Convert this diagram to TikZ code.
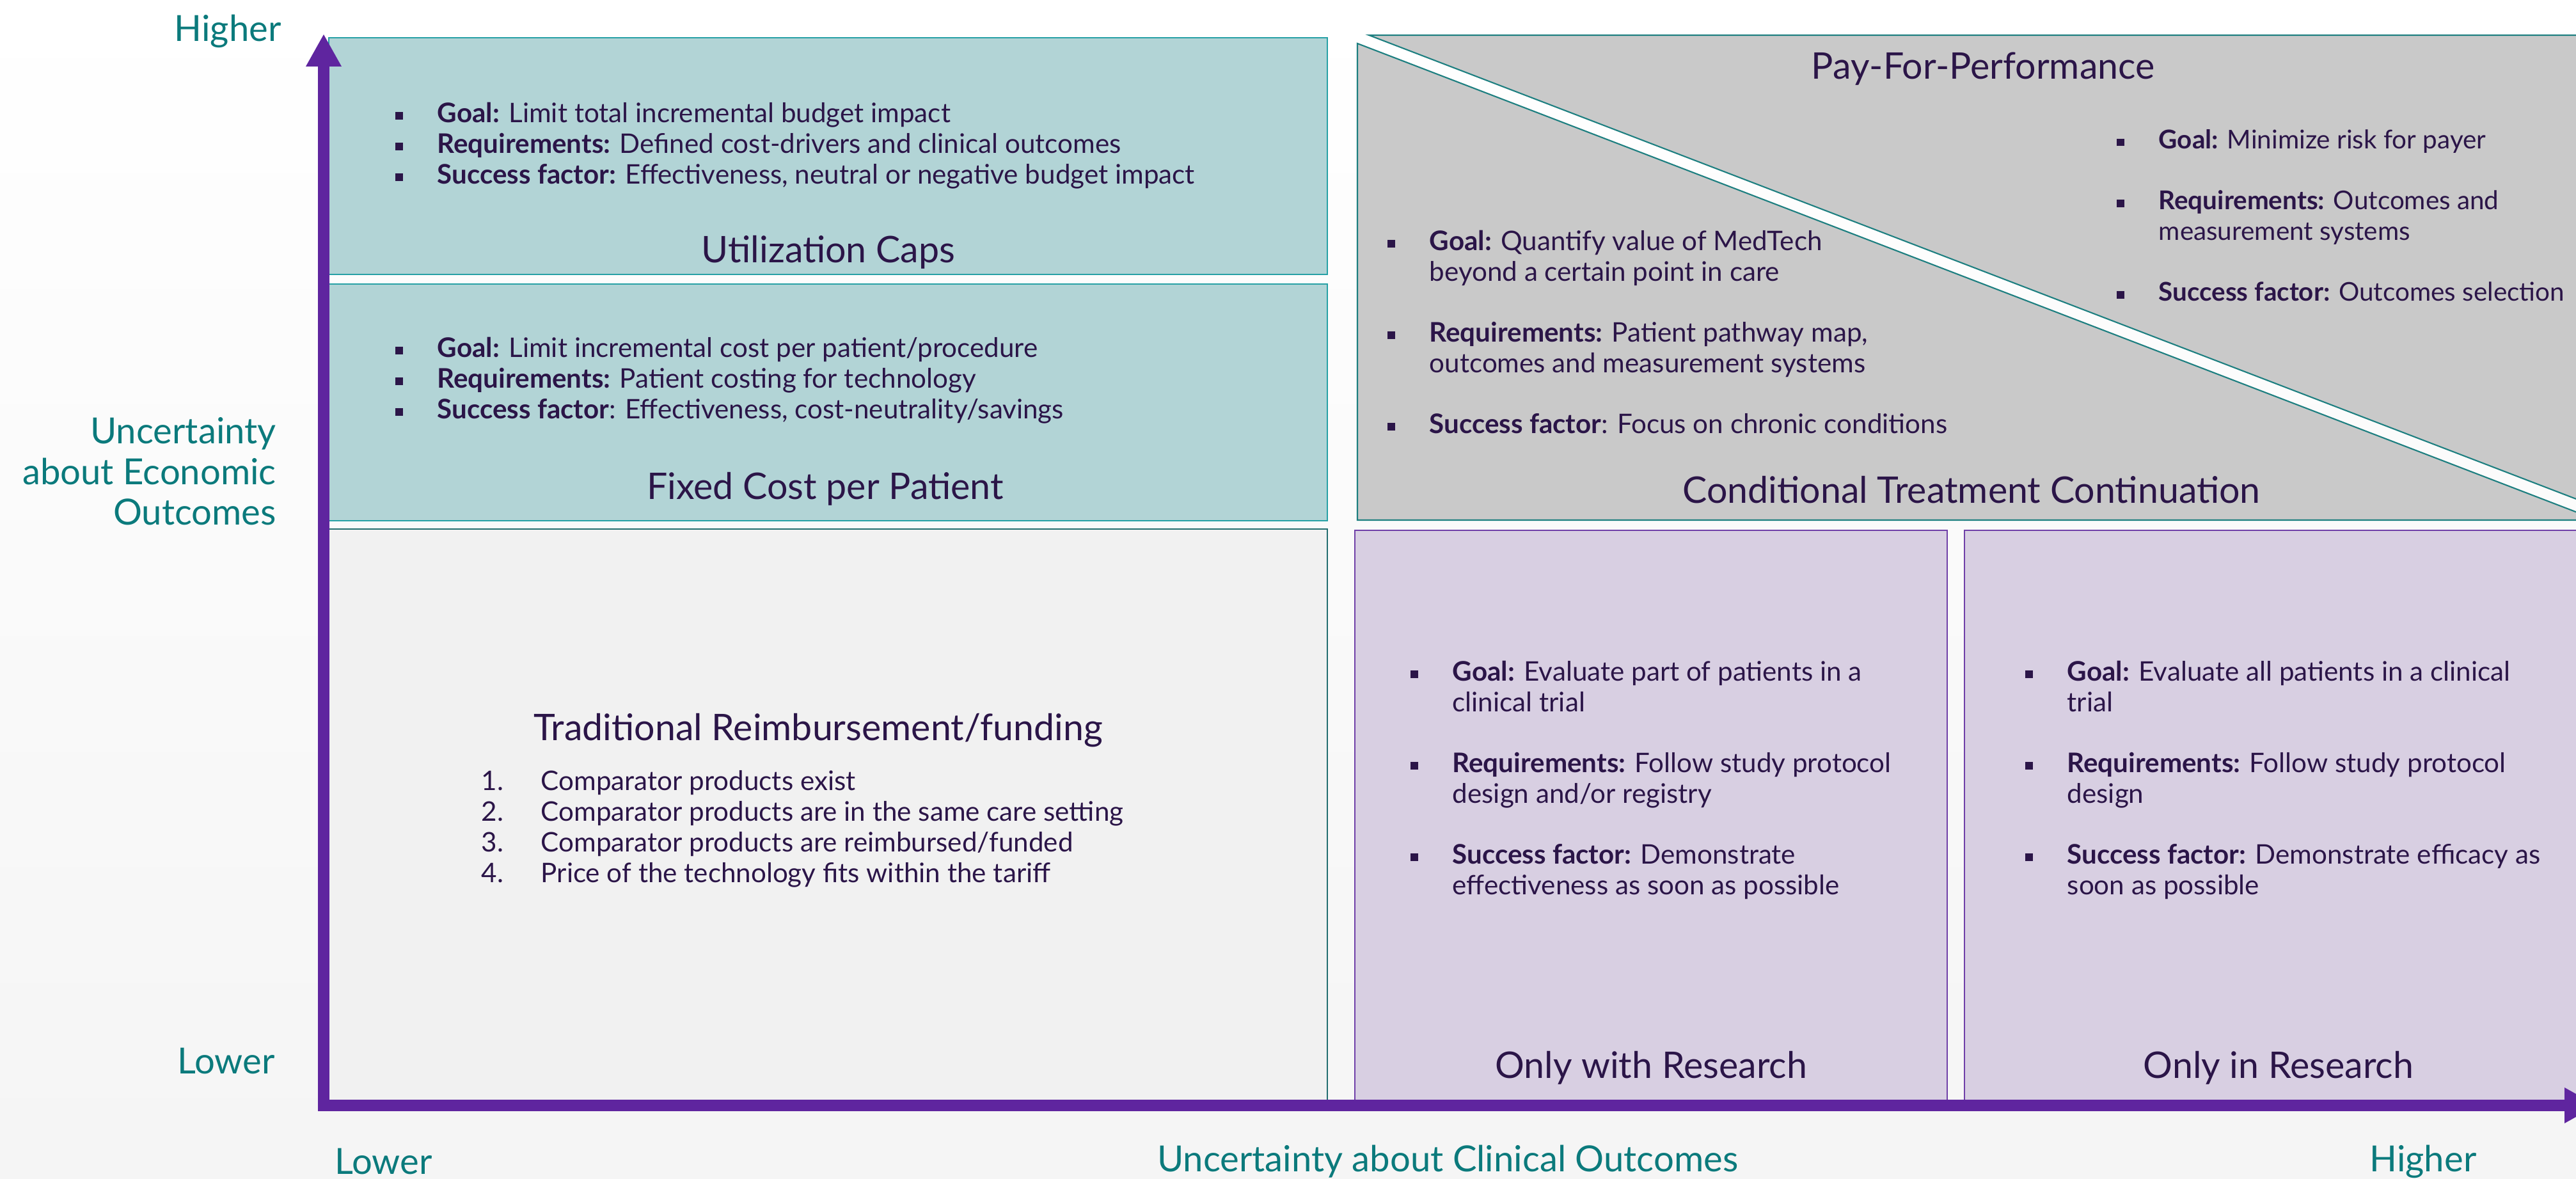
\documentclass[tikz,border=0pt]{standalone}
\usepackage{fontspec}
\setmainfont{Lato}
\usepackage{color}
\usepackage{tikz}
\usetikzlibrary{arrows.meta}

\definecolor{tealtxt}{HTML}{0B7A7C}
\definecolor{inktxt}{HTML}{2B1548}
\definecolor{axispurple}{HTML}{5F259F}
\definecolor{tealfill}{HTML}{B2D4D6}
\definecolor{tealline}{HTML}{27A1A6}
\definecolor{tradfill}{HTML}{F1F1F1}
\definecolor{tradline}{HTML}{236E70}
\definecolor{grayfill}{HTML}{C9C9C9}
\definecolor{grayline}{HTML}{1D7F80}
\definecolor{lilacfill}{HTML}{D8CFE2}
\definecolor{lilacline}{HTML}{7040A8}

\newcommand{\sqb}{\makebox[0.66cm][l]{\rule[1.2pt]{3.4pt}{3.4pt}}}
\newcommand{\hang}{\hspace*{0.66cm}}
\newcommand{\num}[1]{\makebox[0.93cm][l]{#1}}
\newcommand{\bodyfont}{\fontsize{12pt}{13.66pt}\selectfont}
\newcommand{\headfont}{\fontsize{16.3pt}{18pt}\selectfont}
\newcommand{\axisfont}{\fontsize{16pt}{18pt}\selectfont}

\begin{document}
\begin{tikzpicture}

      \useasboundingbox (0,0) rectangle (40.27,18.43);
      \clip (0,0) rectangle (40.27,18.43);
      \shade[top color=white, bottom color=black!4] (0,0) rectangle (40.27,18.43);

      \begin{scope}[every node/.style={rectangle,line width=0.6pt,inner sep=0pt}]
        \node[draw=tealline,fill=tealfill,minimum width=15.61cm,minimum height=3.70cm] (util) at (12.945,15.99) {};
        \node[draw=tealline,fill=tealfill,minimum width=15.61cm,minimum height=3.70cm] (fixed) at (12.945,12.14) {};
        \node[draw=tradline,fill=tradfill,minimum width=15.61cm,minimum height=8.93cm] (trad) at (12.945,5.695) {};
        \node[draw=lilacline,fill=lilacfill,minimum width=9.26cm,minimum height=8.91cm] (withres) at (25.81,5.685) {};
        \node[draw=lilacline,fill=lilacfill,minimum width=9.69cm,minimum height=8.91cm] (inres) at (35.555,5.685) {};
      \end{scope}

      \begin{scope}[draw=grayline,fill=grayfill,line width=0.6pt]
        \filldraw (21.40,17.88) -- (41,17.88) -- (41,10.35) -- cycle;
        \filldraw (21.22,17.75) -- (21.22,10.30) -- (40.60,10.30) -- cycle;
      \end{scope}

      \coordinate (ytip) at (5.06,17.90);
      \coordinate (xtip) at (40.60,1.15);
      \draw[axispurple,line width=0.18cm,
        {Triangle[length=0.51cm,width=0.52cm]}-{Triangle[length=0.51cm,width=0.52cm]}]
        (ytip) |- (xtip);

      \begin{scope}[every node/.style={inner sep=0pt,text=inktxt,align=left,
          font=\bodyfont,anchor=north west}]
        \node (utiltxt) at (6.17,16.84) {\sqb\textbf{Goal:} Limit total incremental budget impact\\
          \sqb\textbf{Requirements:} Defined cost-drivers and clinical outcomes\\
          \sqb\textbf{Success factor:} Effectiveness, neutral or negative budget impact};
        \node (fixedtxt) at (6.17,13.17) {\sqb\textbf{Goal:} Limit incremental cost per patient/procedure\\
          \sqb\textbf{Requirements:} Patient costing for technology\\
          \sqb\textbf{Success factor}: Effectiveness, cost-neutrality/savings};
        \node (tradtxt) at (7.52,6.39) {\num{1.}Comparator products exist\\
          \num{2.}Comparator products are in the same care setting\\
          \num{3.}Comparator products are reimbursed/funded\\
          \num{4.}Price of the technology fits within the tariff};
        \node[font=\fontsize{11.5pt}{13.66pt}\selectfont] (p4ptxt) at (33.08,16.41) {\sqb\textbf{Goal:} Minimize risk for payer\\[13.4pt]
          \sqb\textbf{Requirements:} Outcomes and\\
          \hang measurement systems\\[13.4pt]
          \sqb\textbf{Success factor:} Outcomes selection};
        \node (ctctxt) at (21.68,14.84) {\sqb\textbf{Goal:} Quantify value of MedTech\\
          \hang beyond a certain point in care\\[13.4pt]
          \sqb\textbf{Requirements:} Patient pathway map,\\
          \hang outcomes and measurement systems\\[13.4pt]
          \sqb\textbf{Success factor}: Focus on chronic conditions};
        \node (withrestxt) at (22.04,8.11) {\sqb\textbf{Goal:} Evaluate part of patients in a\\
          \hang clinical trial\\[13.4pt]
          \sqb\textbf{Requirements:} Follow study protocol\\
          \hang design and/or registry\\[13.4pt]
          \sqb\textbf{Success factor:} Demonstrate\\
          \hang effectiveness as soon as possible};
        \node (inrestxt) at (31.65,8.11) {\sqb\textbf{Goal:} Evaluate all patients in a clinical\\
          \hang trial\\[13.4pt]
          \sqb\textbf{Requirements:} Follow study protocol\\
          \hang design\\[13.4pt]
          \sqb\textbf{Success factor:} Demonstrate efficacy as\\
          \hang soon as possible};
      \end{scope}

      \begin{scope}[every node/.style={text=inktxt,font=\headfont}]
        \node (utilhead) at (12.95,14.49) {Utilization Caps};
        \node (fixedhead) at (12.90,10.79) {Fixed Cost per Patient};
        \node (tradhead) at (12.79,7.01) {Traditional Reimbursement/funding};
        \node (p4phead) at (31.00,17.35) {Pay-For-Performance};
        \node (ctchead) at (30.82,10.77) {Conditional Treatment Continuation};
        \node (withreshead) at (25.81,1.74) {Only with Research};
        \node (inreshead) at (35.62,1.74) {Only in Research};
      \end{scope}

      \begin{scope}[every node/.style={text=tealtxt,font=\axisfont,align=right}]
        \node[anchor=east] (yhigh) at (4.52,17.94) {Higher};
        \node[anchor=east] (ylabel) at (4.44,11.06) {Uncertainty\\about Economic\\Outcomes};
        \node[anchor=east] (ylow) at (4.42,1.84) {Lower};
        \node[anchor=west] (xlow) at (5.11,0.27) {Lower};
        \node (xlabel) at (22.63,0.27) {Uncertainty about Clinical Outcomes};
        \node (xhigh) at (37.88,0.27) {Higher};
      \end{scope}
    \end{tikzpicture}
\end{document}
